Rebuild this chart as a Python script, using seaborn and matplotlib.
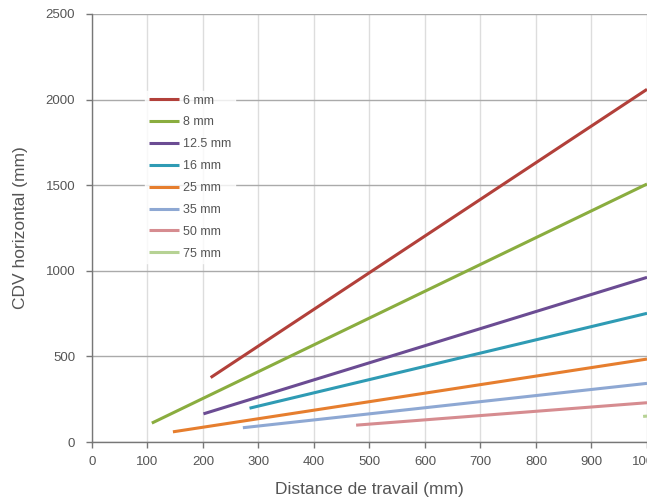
import numpy as np
import pandas as pd
import seaborn as sns
import matplotlib.pyplot as plt

# focal lengths and their lines (start / end points)
focales = ["6 mm", "8 mm", "12.5 mm", "16 mm", "25 mm", "35 mm", "50 mm", "75 mm"]
x_debut = [214, 108, 201, 284, 146, 272, 476, 993]
y_debut = [377, 111, 165, 198, 60, 84, 99, 150]
x_fin = [1000, 1000, 1000, 1000, 1000, 1000, 1000, 1000]
y_fin = [2060, 1507, 962, 752, 485, 343, 230, 152]
couleurs = ["#B2403A", "#8AAD3F", "#6B4C93", "#2F9BB4", "#E67E2E", "#8EA8D3", "#D68C90", "#B6D294"]

rows = []
for f, x0, y0, x1, y1 in zip(focales, x_debut, y_debut, x_fin, y_fin):
    rows.append([f, x0, y0])
    rows.append([f, x1, y1])
df = pd.DataFrame(rows, columns=["Focale", "Distance", "CDV"])

sns.set_style("white")
plt.rcParams['font.family'] = ['Liberation Sans', 'DejaVu Sans']

fig = plt.figure(figsize=(6.47, 4.99), dpi=100)
ax = fig.add_axes([0.142, 0.114, 0.858, 0.858])

sns.lineplot(data=df, x="Distance", y="CDV", hue="Focale", hue_order=focales,
             palette=couleurs, linewidth=2.2, ax=ax, solid_capstyle="butt")

ax.set_xlim(0, 1000)
ax.set_ylim(0, 2500)
ax.set_xticks(np.arange(0, 1001, 100))
ax.set_yticks(np.arange(0, 2501, 500))
ax.xaxis.grid(True, color="#dddddd", lw=1)
ax.yaxis.grid(True, color="#aaaaaa", lw=1)
ax.set_axisbelow(True)

for s in ["top", "right"]:
    ax.spines[s].set_visible(False)
for s in ["left", "bottom"]:
    ax.spines[s].set_color("#777777")
    ax.spines[s].set_linewidth(1)

ax.tick_params(axis="both", colors="#777777", labelcolor="#555555", labelsize=9.5,
               length=4, width=1, direction="out", left=True, bottom=True)
ax.tick_params(axis="x", pad=6)
ax.tick_params(axis="y", pad=8)

ax.set_xlabel("Distance de travail (mm)", fontsize=12.5, color="#555555", labelpad=10,
              fontfamily=['Liberation Sans Narrow', 'Liberation Sans', 'DejaVu Sans'])
ax.set_ylabel("CDV horizontal (mm)", fontsize=12.5, color="#555555", labelpad=13,
              fontfamily=['Liberation Sans Narrow', 'Liberation Sans', 'DejaVu Sans'])

leg = ax.legend(loc="upper left", bbox_to_anchor=(0.085, 0.835), frameon=True,
                fontsize=9, handlelength=2.4, handletextpad=0.3,
                labelspacing=0.79, borderpad=0.3, fancybox=False)
leg.get_frame().set_facecolor("white")
leg.get_frame().set_edgecolor("white")
for t in leg.get_texts():
    t.set_color("#555555")
for h in leg.get_lines():
    h.set_linewidth(2.2)

fig.savefig("out.png", dpi=100)
